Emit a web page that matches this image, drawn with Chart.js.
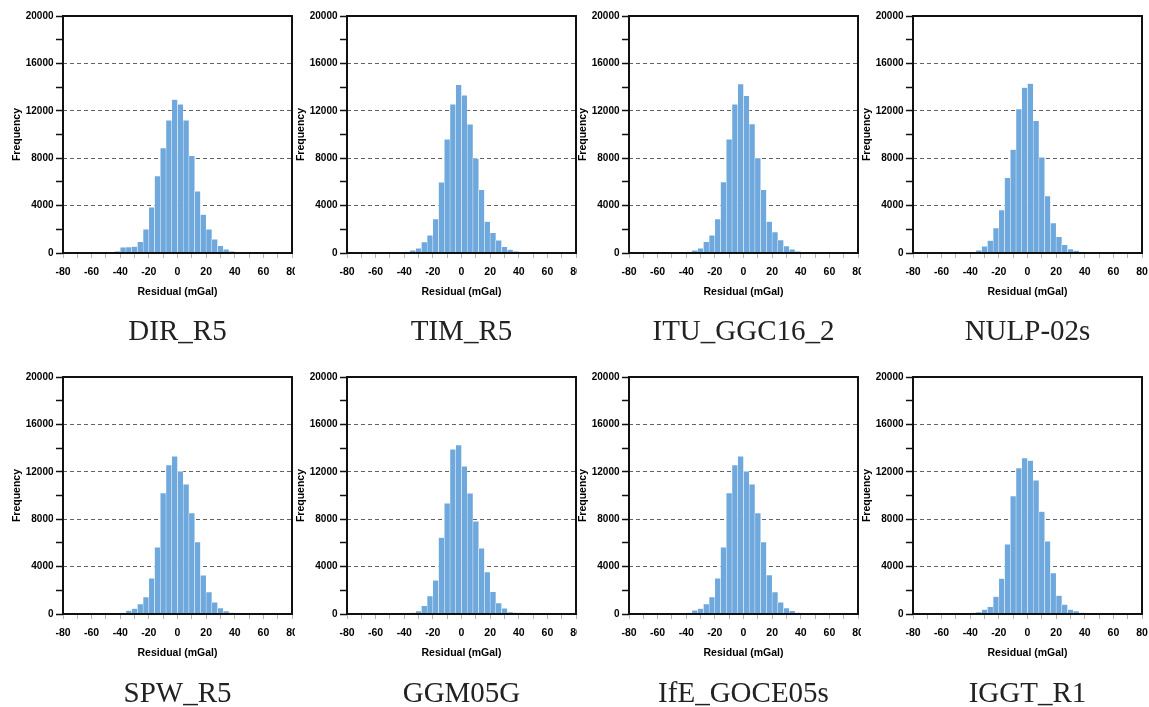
<!DOCTYPE html>
<html>
<head>
<meta charset="utf-8">
<title>Residual histograms</title>
<script src="https://cdn.jsdelivr.net/npm/chart.js@4.4.1/dist/chart.umd.min.js"></script>
<style>
  html, body { margin: 0; padding: 0; background: #fff; width: 1149px; height: 707px; overflow: hidden; }
  canvas { position: absolute; background: #fff; }
</style>
</head>
<body>
<script>
// bin centres (4 mGal bins from -80 to 80)
const binCenters = [-78, -74, -70, -66, -62, -58, -54, -50, -46, -42,
                    -38, -34, -30, -26, -22, -18, -14, -10, -6, -2,
                    2, 6, 10, 14, 18, 22, 26, 30, 34, 38,
                    42, 46, 50, 54, 58, 62, 66, 70, 74, 78];

const modelNames = ['DIR_R5', 'TIM_R5', 'ITU_GGC16_2', 'NULP-02s',
                    'SPW_R5', 'GGM05G', 'IfE_GOCE05s', 'IGGT_R1'];

// frequencies
const dirR5 = [0, 10, 30, 30, 30, 30, 30, 40, 80, 150,
               480, 500, 550, 950, 2000, 3850, 6500, 8850, 11200, 12950,
               12550, 11200, 8200, 5200, 3250, 2000, 1150, 600, 300, 150,
               80, 40, 20, 30, 30, 30, 30, 30, 30, 20];
const timR5 = [0, 10, 20, 20, 20, 20, 20, 20, 30, 50,
               100, 220, 390, 930, 1490, 2860, 5970, 9600, 12540, 14200,
               13300, 10850, 7970, 5330, 2660, 1700, 1070, 530, 280, 140,
               70, 40, 30, 20, 20, 20, 20, 20, 20, 10];
const ituGgc16 = [0, 10, 20, 20, 20, 20, 20, 20, 30, 50,
                  100, 230, 400, 950, 1490, 2860, 5990, 9600, 12540, 14250,
                  13270, 10870, 8000, 5330, 2660, 1770, 1090, 580, 300, 140,
                  70, 40, 30, 20, 20, 20, 20, 20, 20, 10];
const nulp02s = [0, 0, 10, 10, 10, 20, 20, 20, 30, 50,
                 60, 220, 560, 1040, 2100, 3620, 6340, 8720, 12150, 13970,
                 14300, 11160, 8080, 4800, 2520, 1370, 700, 340, 200, 100,
                 50, 30, 20, 20, 20, 20, 20, 20, 20, 10];
const spwR5 = [20, 30, 30, 30, 30, 30, 30, 30, 50, 70,
               100, 280, 450, 840, 1430, 3000, 5630, 10200, 12570, 13300,
               12040, 10940, 8520, 6070, 3260, 1860, 980, 500, 250, 120,
               60, 30, 20, 20, 30, 30, 30, 30, 30, 20];
const ggm05g = [0, 10, 10, 20, 20, 20, 30, 30, 30, 40,
                70, 120, 250, 700, 1520, 2840, 6440, 9340, 13900, 14260,
                12460, 10180, 7820, 5540, 3540, 1880, 930, 480, 170, 120,
                100, 50, 20, 20, 20, 20, 20, 20, 20, 10];
const ifeGoce05s = [20, 30, 30, 30, 30, 30, 30, 30, 50, 70,
                    100, 300, 450, 840, 1430, 3000, 5630, 10200, 12570, 13300,
                    12040, 10940, 8520, 6070, 3290, 1860, 980, 500, 270, 130,
                    60, 30, 20, 20, 30, 30, 30, 30, 30, 20];
const iggtR1 = [0, 10, 10, 20, 20, 20, 30, 30, 40, 60,
                100, 170, 370, 600, 1460, 2980, 5880, 9960, 12320, 13160,
                12940, 11280, 8640, 6130, 3460, 1550, 790, 370, 250, 120,
                80, 40, 20, 20, 20, 20, 20, 20, 20, 10];

const allSeries = [dirR5, timR5, ituGgc16, nulp02s, spwR5, ggm05g, ifeGoce05s, iggtR1];

Chart.defaults.font.family = '"Liberation Sans", Arial, Helvetica, sans-serif';
Chart.defaults.color = '#000';

// draws the closed box round the plot
const frameBox = {
  id: 'frameBox',
  afterDraw(chart) {
    const { ctx, chartArea: a } = chart;
    ctx.save();
    ctx.strokeStyle = '#111';
    ctx.lineWidth = 2;
    ctx.strokeRect(a.left, a.top, a.right - a.left, a.bottom - a.top);
    ctx.restore();
  }
};

const plotLefts = [63, 347, 629, 913];
const rowTops = [0, 361];
const titleGaps = [16.6, 18.2];
const canvasH = 360;

allSeries.forEach((series, i) => {
  const col = i % 4, row = Math.floor(i / 4);
  const cv = document.createElement('canvas');
  const w = col === 3 ? 288 : 300;
  cv.width = w; cv.height = canvasH;
  cv.style.left = (plotLefts[col] - 52) + 'px';
  cv.style.top = rowTops[row] + 'px';
  cv.style.width = w + 'px'; cv.style.height = canvasH + 'px';
  document.body.appendChild(cv);

  const gap = titleGaps[row];

  new Chart(cv.getContext('2d'), {
    type: 'bar',
    data: {
      labels: binCenters,
      datasets: [{
        data: series,
        backgroundColor: 'rgb(111, 168, 221)',
        borderColor: 'rgba(255, 255, 255, 0.9)',
        borderWidth: 0.5,
        barPercentage: 1,
        categoryPercentage: 1
      }]
    },
    options: {
      responsive: false,
      animation: false,
      layout: {
        autoPadding: false,
        padding: { top: 16, left: 0, right: w - 52 - 229, bottom: canvasH - 16 - 237 - 45 - 34.8 - gap }
      },
      scales: {
        x: {
          type: 'linear',
          min: -80, max: 80,
          offset: false,
          grid: { offset: false, drawOnChartArea: false, tickLength: 5, tickColor: '#b5b5b5', tickWidth: 1 },
          border: { display: false },
          ticks: {
            stepSize: 10, autoSkip: false, maxRotation: 0, padding: 8,
            font: { size: 10.5, weight: 'bold' },
            callback: v => (v % 20 === 0 ? v : '')
          },
          title: { display: true, text: 'Residual (mGal)', padding: 0, font: { size: 10.5, weight: 'bold' } },
          afterFit: s => { s.height = 45; s.paddingLeft = 0; s.paddingRight = 0; }
        },
        y: {
          min: 0, max: 20000,
          z: 1,
          grid: {
            color: c => (c.tick && c.tick.value % 4000 === 0 && c.tick.value > 0 && c.tick.value < 20000)
              ? 'rgba(70, 70, 70, 0.85)' : 'rgba(0, 0, 0, 0)',
            lineWidth: 1,
            tickLength: 7, tickColor: '#111', tickWidth: 1.5
          },
          border: { display: false, dash: [4, 3] },
          ticks: {
            stepSize: 2000, autoSkip: false, padding: 2.5,
            font: { size: 10, weight: 'bold' },
            callback: v => (v % 4000 === 0 ? v : '')
          },
          title: { display: true, text: 'Frequency', padding: 0, font: { size: 10.5, weight: 'bold' } },
          afterFit: s => { s.width = 52; s.paddingTop = 0; s.paddingBottom = 0; }
        }
      },
      plugins: {
        legend: { display: false },
        tooltip: { enabled: false },
        title: {
          display: true,
          position: 'bottom',
          fullSize: false,
          text: modelNames[i],
          color: '#222',
          font: { family: '"Liberation Serif", "Times New Roman", serif', size: 29, weight: 'normal', lineHeight: 1.2 },
          padding: { top: gap, bottom: 0 }
        }
      }
    },
    plugins: [frameBox]
  });
});
</script>
</body>
</html>
